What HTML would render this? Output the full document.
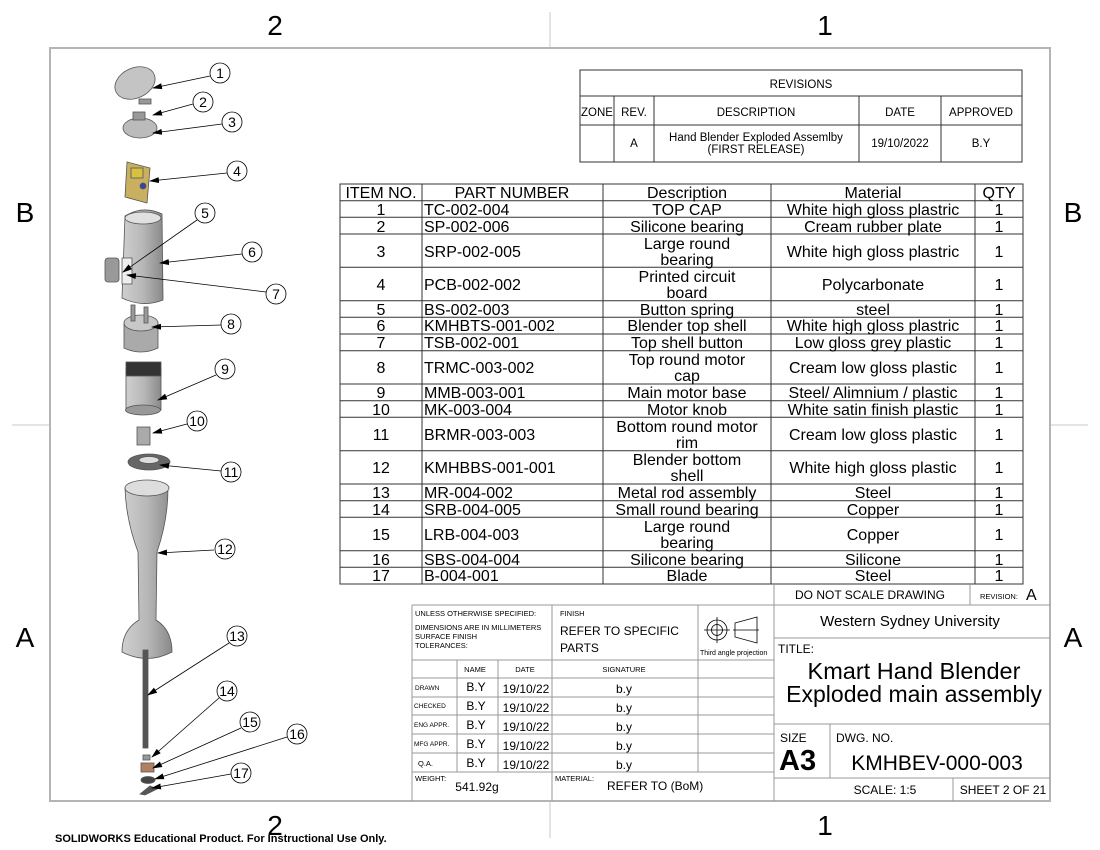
<!DOCTYPE html>
<html><head><meta charset="utf-8"><style>
html,body{margin:0;padding:0;background:#fff;}
svg{display:block;font-family:"Liberation Sans",sans-serif;}
</style></head><body>
<svg width="1100" height="850" viewBox="0 0 1100 850" xmlns="http://www.w3.org/2000/svg">
<defs>
<marker id="ar" markerWidth="10" markerHeight="6" refX="9" refY="3" orient="auto" markerUnits="userSpaceOnUse"><path d="M0,0 L10,3 L0,6 z" fill="#000"/></marker>
<linearGradient id="g" x1="0" x2="1"><stop offset="0" stop-color="#cfcfcf"/><stop offset="0.5" stop-color="#b8b8b8"/><stop offset="1" stop-color="#8a8a8a"/></linearGradient>
</defs>
<g stroke="#c8c8c8" stroke-width="1">
<line x1="550" y1="12" x2="550" y2="48"/><line x1="550" y1="801" x2="550" y2="838"/>
<line x1="12" y1="425" x2="50" y2="425"/><line x1="1050" y1="425" x2="1088" y2="425"/>
</g>
<rect x="50" y="48" width="1000" height="753" fill="none" stroke="#b4b4b4" stroke-width="2"/>
<g font-size="28" text-anchor="middle">
<text x="275" y="35">2</text><text x="825" y="35">1</text>
<text x="275" y="835">2</text><text x="825" y="835">1</text>
<text x="25" y="222">B</text><text x="1073" y="222">B</text>
<text x="25" y="647">A</text><text x="1073" y="647">A</text>
</g>
<text x="55" y="842" font-size="11" font-weight="bold">SOLIDWORKS Educational Product. For Instructional Use Only.</text>

<g stroke="#333" stroke-width="1" fill="none">
<rect x="580" y="70" width="442" height="92"/>
<line x1="580" y1="96" x2="1022" y2="96"/><line x1="580" y1="125" x2="1022" y2="125"/>
<line x1="614" y1="96" x2="614" y2="162"/><line x1="654" y1="96" x2="654" y2="162"/>
<line x1="859" y1="96" x2="859" y2="162"/><line x1="941" y1="96" x2="941" y2="162"/>
</g>
<g font-size="11.5" text-anchor="middle">
<text x="801" y="88">REVISIONS</text>
<text x="597" y="116">ZONE</text><text x="634" y="116">REV.</text><text x="756" y="116">DESCRIPTION</text><text x="900" y="116">DATE</text><text x="981" y="116">APPROVED</text>
<text x="634" y="147">A</text><text x="756" y="141">Hand Blender Exploded Assemlby</text><text x="756" y="153">(FIRST RELEASE)</text>
<text x="900" y="147">19/10/2022</text><text x="981" y="147">B.Y</text>
</g>

<g stroke="#333" stroke-width="1" fill="none">
<rect x="340" y="184" width="683" height="400"/>
<line x1="422" y1="184" x2="422" y2="584"/><line x1="603" y1="184" x2="603" y2="584"/>
<line x1="771" y1="184" x2="771" y2="584"/><line x1="975" y1="184" x2="975" y2="584"/>
<path d="M340 200.7H1023M340 217.3H1023M340 234H1023M340 267.3H1023M340 300.7H1023M340 317.3H1023M340 334H1023M340 350.7H1023M340 384H1023M340 400.7H1023M340 417.3H1023M340 450.7H1023M340 484H1023M340 500.7H1023M340 517.3H1023M340 550.7H1023M340 567.3H1023"/>
</g>
<g font-size="16">
<g text-anchor="middle">
<text x="381" y="198">ITEM NO.</text><text x="512" y="198">PART NUMBER</text><text x="687" y="198">Description</text><text x="873" y="198">Material</text><text x="999" y="198">QTY</text>
</g>
<g text-anchor="middle">
<text x="381" y="215">1</text><text x="381" y="232">2</text><text x="381" y="257">3</text><text x="381" y="290">4</text><text x="381" y="315">5</text><text x="381" y="331">6</text><text x="381" y="348">7</text><text x="381" y="373">8</text><text x="381" y="398">9</text><text x="381" y="415">10</text><text x="381" y="440">11</text><text x="381" y="473">12</text><text x="381" y="498">13</text><text x="381" y="515">14</text><text x="381" y="540">15</text><text x="381" y="565">16</text><text x="381" y="581">17</text>
<text x="999" y="215">1</text><text x="999" y="232">1</text><text x="999" y="257">1</text><text x="999" y="290">1</text><text x="999" y="315">1</text><text x="999" y="331">1</text><text x="999" y="348">1</text><text x="999" y="373">1</text><text x="999" y="398">1</text><text x="999" y="415">1</text><text x="999" y="440">1</text><text x="999" y="473">1</text><text x="999" y="498">1</text><text x="999" y="515">1</text><text x="999" y="540">1</text><text x="999" y="565">1</text><text x="999" y="581">1</text>
<text x="687" y="215">TOP CAP</text><text x="687" y="232">Silicone bearing</text>
<text x="687" y="249">Large round</text><text x="687" y="265">bearing</text>
<text x="687" y="282">Printed circuit</text><text x="687" y="298">board</text>
<text x="687" y="315">Button spring</text><text x="687" y="331">Blender top shell</text><text x="687" y="348">Top shell button</text>
<text x="687" y="365">Top round motor</text><text x="687" y="381">cap</text>
<text x="687" y="398">Main motor base</text><text x="687" y="415">Motor knob</text>
<text x="687" y="432">Bottom round motor</text><text x="687" y="448">rim</text>
<text x="687" y="465">Blender bottom</text><text x="687" y="481">shell</text>
<text x="687" y="498">Metal rod assembly</text><text x="687" y="515">Small round bearing</text>
<text x="687" y="532">Large round</text><text x="687" y="548">bearing</text>
<text x="687" y="565">Silicone bearing</text><text x="687" y="581">Blade</text>
<text x="873" y="215">White high gloss plastric</text><text x="873" y="232">Cream rubber plate</text><text x="873" y="257">White high gloss plastric</text><text x="873" y="290">Polycarbonate</text><text x="873" y="315">steel</text><text x="873" y="331">White high gloss plastric</text><text x="873" y="348">Low gloss grey plastic</text><text x="873" y="373">Cream low gloss plastic</text><text x="873" y="398">Steel/ Alimnium / plastic</text><text x="873" y="415">White satin finish plastic</text><text x="873" y="440">Cream low gloss plastic</text><text x="873" y="473">White high gloss plastic</text><text x="873" y="498">Steel</text><text x="873" y="515">Copper</text><text x="873" y="540">Copper</text><text x="873" y="565">Silicone</text><text x="873" y="581">Steel</text>
</g>
<g>
<text x="424" y="215">TC-002-004</text><text x="424" y="232">SP-002-006</text><text x="424" y="257">SRP-002-005</text><text x="424" y="290">PCB-002-002</text><text x="424" y="315">BS-002-003</text><text x="424" y="331">KMHBTS-001-002</text><text x="424" y="348">TSB-002-001</text><text x="424" y="373">TRMC-003-002</text><text x="424" y="398">MMB-003-001</text><text x="424" y="415">MK-003-004</text><text x="424" y="440">BRMR-003-003</text><text x="424" y="473">KMHBBS-001-001</text><text x="424" y="498">MR-004-002</text><text x="424" y="515">SRB-004-005</text><text x="424" y="540">LRB-004-003</text><text x="424" y="565">SBS-004-004</text><text x="424" y="581">B-004-001</text>
</g>
</g>

<g stroke="#999" stroke-width="1" fill="none">
<line x1="774" y1="584" x2="774" y2="801"/>
<line x1="774" y1="605" x2="1050" y2="605"/><line x1="970" y1="584" x2="970" y2="605"/>
<line x1="774" y1="638" x2="1050" y2="638"/><line x1="774" y1="724" x2="1050" y2="724"/>
<line x1="830" y1="724" x2="830" y2="778"/><line x1="774" y1="778" x2="1050" y2="778"/>
<line x1="953" y1="778" x2="953" y2="801"/>
<line x1="412" y1="605" x2="774" y2="605"/><line x1="412" y1="605" x2="412" y2="801"/>
<line x1="412" y1="660" x2="774" y2="660"/><line x1="412" y1="678" x2="774" y2="678"/>
<line x1="412" y1="697" x2="774" y2="697"/><line x1="412" y1="715" x2="774" y2="715"/>
<line x1="412" y1="734" x2="774" y2="734"/><line x1="412" y1="753" x2="774" y2="753"/>
<line x1="412" y1="772" x2="774" y2="772"/>
<line x1="552" y1="605" x2="552" y2="660"/><line x1="698" y1="605" x2="698" y2="772"/>
<line x1="457" y1="660" x2="457" y2="772"/><line x1="498" y1="660" x2="498" y2="772"/>
<line x1="552" y1="660" x2="552" y2="801"/>
</g>
<g font-size="7.5">
<text x="415" y="616">UNLESS OTHERWISE SPECIFIED:</text>
<text x="415" y="630">DIMENSIONS ARE IN MILLIMETERS</text>
<text x="415" y="639">SURFACE FINISH</text>
<text x="415" y="648">TOLERANCES:</text>
<text x="560" y="616">FINISH</text>
<text x="700" y="655" font-size="7">Third angle projection</text>
<text x="475" y="672" text-anchor="middle">NAME</text><text x="525" y="672" text-anchor="middle">DATE</text><text x="624" y="672" text-anchor="middle">SIGNATURE</text>
<text x="415" y="690" font-size="6.5">DRAWN</text><text x="414" y="708" font-size="6.5">CHECKED</text><text x="414" y="727" font-size="6.5">ENG APPR.</text><text x="414" y="746" font-size="6.5">MFG APPR.</text><text x="418" y="766">Q.A.</text>
<text x="415" y="781">WEIGHT:</text><text x="555" y="781">MATERIAL:</text>
<text x="980" y="599">REVISION:</text>
</g>
<g font-size="12">
<text x="560" y="635">REFER TO SPECIFIC</text><text x="560" y="652">PARTS</text>
<text x="477" y="791" text-anchor="middle">541.92g</text><text x="607" y="790">REFER TO (BoM)</text>
<g text-anchor="middle">
<text x="476" y="691">B.Y</text><text x="476" y="710">B.Y</text><text x="476" y="729">B.Y</text><text x="476" y="748">B.Y</text><text x="476" y="767">B.Y</text>
<text x="526" y="693">19/10/22</text><text x="526" y="712">19/10/22</text><text x="526" y="731">19/10/22</text><text x="526" y="750">19/10/22</text><text x="526" y="769">19/10/22</text>
<text x="624" y="693">b.y</text><text x="624" y="712">b.y</text><text x="624" y="731">b.y</text><text x="624" y="750">b.y</text><text x="624" y="769">b.y</text>
</g>
<text x="870" y="599" text-anchor="middle">DO NOT SCALE DRAWING</text>
<text x="910" y="626" text-anchor="middle" font-size="15">Western Sydney University</text>
<text x="778" y="653">TITLE:</text>
<text x="780" y="742">SIZE</text><text x="836" y="742">DWG.  NO.</text>
<text x="885" y="794" text-anchor="middle">SCALE: 1:5</text><text x="1003" y="794" text-anchor="middle">SHEET 2 OF 21</text>
</g>
<text x="1026" y="600" font-size="16">A</text>
<text x="914" y="679" text-anchor="middle" font-size="23.5">Kmart Hand Blender</text>
<text x="914" y="702" text-anchor="middle" font-size="23">Exploded main assembly</text>
<text x="779" y="770" font-size="29" font-weight="bold">A3</text>
<text x="937" y="770" text-anchor="middle" font-size="21">KMHBEV-000-003</text>
<g stroke="#000" stroke-width="0.8" fill="none">
<circle cx="717" cy="630" r="10"/><circle cx="717" cy="630" r="5.5"/>
<line x1="704" y1="630" x2="730" y2="630"/><line x1="717" y1="617" x2="717" y2="643"/>
<path d="M735 623 L757 617 L757 643 L735 637 Z"/><line x1="733" y1="630" x2="759" y2="630"/>
</g>

<g stroke="#555" stroke-width="0.8">
<ellipse cx="135" cy="83" rx="21" ry="15" fill="#c4c4c4" transform="rotate(-25 135 83)"/>
<rect x="139" y="99" width="12" height="5" fill="#999"/>
<ellipse cx="140" cy="128" rx="17" ry="10" fill="#bbb"/>
<rect x="133" y="112" width="12" height="8" fill="#999"/>
<path d="M127 162 L150 168 L147 203 L125 197 Z" fill="#c9b060"/>
<rect x="131" y="168" width="12" height="10" fill="#d8c040"/>
<circle cx="143" cy="186" r="3" fill="#3344aa"/>
<path d="M125 216 Q143 205 162 214 L163 300 Q143 308 122 298 Z" fill="url(#g)"/>
<ellipse cx="143" cy="218" rx="18" ry="6" fill="#e0e0e0"/>
<rect x="105" y="258" width="14" height="24" rx="3" fill="#999"/>
<rect x="122" y="258" width="10" height="26" fill="#eee"/>
<path d="M124 323 L158 323 L158 348 Q141 356 124 348 Z" fill="#aaa"/>
<ellipse cx="141" cy="323" rx="17" ry="8" fill="#c8c8c8"/>
<rect x="131" y="305" width="4" height="16" fill="#999"/><rect x="144" y="307" width="4" height="16" fill="#999"/>
<rect x="126" y="368" width="35" height="42" fill="url(#g)"/>
<rect x="126" y="362" width="35" height="14" fill="#333"/>
<ellipse cx="143" cy="410" rx="17.5" ry="5" fill="#999"/>
<rect x="137" y="427" width="13" height="18" fill="#aaa"/>
<ellipse cx="149" cy="462" rx="21" ry="8" fill="#666"/>
<ellipse cx="149" cy="460" rx="10" ry="3.5" fill="#ddd"/>
<path d="M125 488 Q126 520 138 552 L139 620 Q122 630 122 652 Q147 665 172 652 Q172 630 156 620 L157 552 Q168 520 168 488 Z" fill="url(#g)"/>
<ellipse cx="147" cy="488" rx="22" ry="8" fill="#ddd"/>
<rect x="143" y="650" width="5" height="98" fill="#555"/>
<rect x="143" y="755" width="7" height="5" fill="#999"/>
<rect x="141" y="763" width="13" height="9" fill="#b08060"/>
<ellipse cx="148" cy="780" rx="7" ry="3.5" fill="#444"/>
<path d="M140 794 L150 786 L157 789 L145 795 Z" fill="#555"/>
</g>
<g stroke="#000" stroke-width="0.8" fill="none" marker-end="url(#ar)">
<line x1="210" y1="76" x2="153" y2="88"/>
<line x1="193" y1="104" x2="153" y2="115"/>
<line x1="222" y1="124" x2="153" y2="133"/>
<line x1="227" y1="173" x2="150" y2="181"/>
<line x1="197" y1="220" x2="123" y2="272"/>
<line x1="242" y1="254" x2="160" y2="263"/>
<line x1="266" y1="292" x2="127" y2="275"/>
<line x1="221" y1="325" x2="152" y2="327"/>
<line x1="216" y1="375" x2="158" y2="400"/>
<line x1="187" y1="424" x2="153" y2="433"/>
<line x1="221" y1="471" x2="160" y2="465"/>
<line x1="214" y1="550" x2="158" y2="553"/>
<line x1="229" y1="643" x2="148" y2="695"/>
<line x1="219" y1="698" x2="152" y2="757"/>
<line x1="241" y1="728" x2="153" y2="768"/>
<line x1="287" y1="737" x2="155" y2="779"/>
<line x1="231" y1="774" x2="152" y2="788"/>
</g>
<g stroke="#000" stroke-width="0.8" fill="#fff" >
<circle cx="220" cy="73" r="10"/><circle cx="203" cy="102" r="10"/><circle cx="232" cy="122" r="10"/><circle cx="237" cy="171" r="10"/><circle cx="205" cy="213" r="10"/><circle cx="252" cy="252" r="10"/><circle cx="276" cy="294" r="10"/><circle cx="231" cy="324" r="10"/><circle cx="225" cy="369" r="10"/><circle cx="197" cy="421" r="10"/><circle cx="231" cy="472" r="10"/><circle cx="225" cy="549" r="10"/><circle cx="237" cy="636" r="10"/><circle cx="227" cy="691" r="10"/><circle cx="250" cy="722" r="10"/><circle cx="297" cy="734" r="10"/><circle cx="241" cy="773" r="10"/>
</g>
<g font-size="14" text-anchor="middle">
<text x="220" y="78">1</text><text x="203" y="107">2</text><text x="232" y="127">3</text><text x="237" y="176">4</text><text x="205" y="218">5</text><text x="252" y="257">6</text><text x="276" y="299">7</text><text x="231" y="329">8</text><text x="225" y="374">9</text><text x="197" y="426">10</text><text x="231" y="477">11</text><text x="225" y="554">12</text><text x="237" y="641">13</text><text x="227" y="696">14</text><text x="250" y="727">15</text><text x="297" y="739">16</text><text x="241" y="778">17</text>
</g>
</svg>
</body></html>
